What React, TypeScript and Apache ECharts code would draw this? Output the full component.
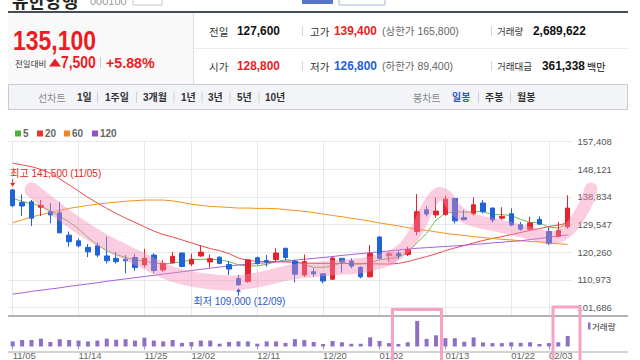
import React, { useEffect, useRef } from 'react';
import * as echarts from 'echarts';

const dates = ['11/05','11/06','11/07','11/08','11/11','11/12','11/13','11/14','11/15','11/18','11/19','11/20','11/21','11/22','11/25','11/26','11/27','11/28','11/29','12/02','12/03','12/04','12/05','12/06','12/09','12/10','12/11','12/12','12/13','12/16','12/17','12/18','12/19','12/20','12/23','12/24','12/26','12/27','12/30','01/02','01/03','01/06','01/07','01/08','01/09','01/10','01/13','01/14','01/15','01/16','01/17','01/20','01/21','01/22','01/23','01/24','01/31','02/03','02/04','02/05'];

const opens = [141200,137000,137200,135400,133900,133500,126000,124100,121900,122400,
  119000,118200,117900,118500,116000,119300,114300,116700,120000,116300,
  119000,117000,118600,116100,111400,110400,118400,117500,117800,121600,
  117200,112600,113700,113000,111200,118200,117300,115200,112000,125400,
  119200,119900,119500,127200,134500,132800,132900,138300,131900,133200,
  136800,135100,131700,133200,129500,128000,131300,127200,125600,128800];
const highs = [141500,139700,137800,137800,136700,137200,127200,124900,123000,123500,
  125500,120400,119300,119700,121400,119900,117600,120400,120100,119800,
  122600,119500,118800,117400,112600,117900,118800,119300,121600,121700,
  117700,119500,114900,113200,118800,118300,118200,115500,122700,125500,
  120400,120800,122100,139800,135800,138600,139200,138500,134400,138700,
  137800,135300,135400,135000,130400,132200,132300,128600,130400,139400];
const lows = [135400,132400,129100,132400,130000,126600,122100,121900,118600,118600,
  116500,116500,113200,114000,115100,113200,113700,116500,115200,115600,
  118700,115100,116200,112600,109000,110000,116000,115400,117100,117500,
  110100,112000,112000,109800,110900,113400,114900,111500,111800,117800,
  117100,117900,119000,126000,132300,131800,132600,129900,131000,132600,
  133300,130200,131200,129100,127500,127600,129400,122700,125200,128200];
const closes = [135900,135800,131700,136000,132800,126800,123800,122400,120400,119300,
  117400,117100,117400,115100,118200,114100,116500,118900,115500,117900,
  120300,118100,116500,114600,109300,117700,116500,116900,120000,118500,
  112900,117100,113000,110600,118300,117000,115600,112000,119800,118200,
  119700,119000,121200,133900,133100,134100,138100,130800,131200,136200,
  133900,131100,132300,129400,128000,130100,129700,123300,127600,135100];

const volumes = [1290000,1655000,1655000,2000000,1140000,1870000,1655000,1505000,1290000,1505000,
  2000000,1720000,1870000,1505000,2215000,1505000,1290000,1655000,925000,1140000,
  1505000,1505000,710000,1140000,1290000,1290000,710000,1290000,1290000,925000,
  1870000,1655000,1140000,645000,1400000,1075000,690000,690000,2320000,1420000,
  860000,645000,1075000,6490000,1935000,2840000,2105000,2105000,1205000,2320000,
  1030000,860000,860000,1075000,925000,1075000,645000,860000,1075000,2689622];

const ma5 = [138400,137300,136600,135800,134100,132400,130400,128100,125200,122700,
  120800,119500,118500,117700,117300,116600,116300,116600,117100,117700,
  117900,117900,117700,117100,116000,115600,115700,116200,117100,117700,
  117400,116000,115200,115200,115600,116800,116300,116300,116700,117700,
  118200,118600,120400,123500,126600,131100,133400,133900,133700,133900,
  133900,132900,132900,132600,131300,130300,130100,128700,128400,130000];
const ma20 = [150200,149600,149000,148100,146800,144900,142900,140800,138700,136800,
  135000,133300,131700,130300,128800,127400,126200,125400,124400,123400,
  122400,121500,120800,119800,118300,117500,117200,117100,117100,117000,
  116800,116600,116500,116500,116500,116500,116400,116400,116400,116300,
  116300,116500,117100,118000,118800,119700,120800,121700,122500,123400,
  124200,124900,125500,126200,126900,127600,128200,128900,129400,130100];
const ma60 = [130200,131100,132100,132900,133600,134300,135000,135500,136000,136400,
  136800,137100,137400,137600,137800,137800,137800,137500,137000,136400,
  136000,135700,135500,135300,135100,135100,135000,135000,134900,134600,
  134300,134000,133600,133100,132600,132200,131700,131200,130700,130100,
  129600,129100,128500,128000,127600,127100,126600,126200,125900,125500,
  125200,124900,124600,124400,124100,123900,123700,123400,123100,122900];
const ma120 = [106200,106600,107100,107500,107900,108300,108800,109200,109600,110000,
  110500,110900,111300,111700,112100,112500,112900,113300,113700,114100,
  114500,114900,115300,115600,116000,116200,116500,116700,117000,117200,
  117600,117900,118200,118500,118800,119200,119500,119800,120100,120400,
  120700,121000,121300,121600,121800,122000,122200,122400,122600,122900,
  123100,123400,123600,123900,124100,124500,124900,125300,125700,126100];

const yTicks = [101686, 110973, 120260, 129547, 138834, 148121, 157408];
const dateTicks = ['11/05','11/14','11/25','12/02','12/11','12/20','01/02','01/13','01/22','02/03'];
const highPoint = { date: '11/05', price: 141500, text: '최고 141,500 (11/05)' };
const lowPoint = { date: '12/09', price: 109000, text: '최저 109,000 (12/09)' };

const FONT = "'Liberation Sans', 'Noto Sans CJK KR', sans-serif";
const KFONT = "'Noto Sans CJK KR', 'Liberation Sans', sans-serif";
const RED = '#ec1c24';
const BLUE = '#1c5ed8';
const UP = '#e5232b';
const DOWN = '#1f63d6';
const MA_COLORS = ['#6cc04a', '#ef4b4b', '#f6911e', '#a461d8'];
const LEG_COLORS = ['#4bb33b', '#e8352f', '#f5861f', '#9653c9'];

const fmt = (v: number) => v.toLocaleString('en-US');

function T(text: string, x: number, y: number, o: any = {}) {
  return {
    type: 'text', x, y, z: 20, scaleX: o.scaleX ?? 1,
    style: {
      text, fill: o.fill ?? '#333', fontSize: o.fontSize ?? 10,
      fontWeight: o.bold ? 'bold' : 'normal', fontFamily: o.font ?? FONT,
      align: o.align ?? 'left', verticalAlign: o.va ?? 'middle',
    },
  };
}
function L(x1: number, y1: number, x2: number, y2: number, stroke: string, lineWidth = 1, z = 20) {
  return { type: 'line', z, shape: { x1, y1, x2, y2 }, style: { stroke, lineWidth } };
}
function R(x: number, y: number, width: number, height: number, style: any, z = 1) {
  return { type: 'rect', z, shape: { x, y, width, height }, style };
}

export default function App() {
  const ref = useRef<HTMLDivElement>(null);
  useEffect(() => {
    document.body.style.margin = '0';
    const chart = echarts.init(ref.current!, null, { renderer: 'svg', width: 640, height: 360 });
    const isTick = (i: number) => dateTicks.includes(dates[i]);
    const maNames = ['5', '20', '60', '120'];
    const maData = [ma5, ma20, ma60, ma120];

    chart.setOption({
      animation: false,
      grid: [
        { left: 8, right: 67.6, top: 141.7, height: 174.3 },
        { left: 8, right: 67.6, top: 316, height: 36 },
      ],
      xAxis: [
        { type: 'category', gridIndex: 0, data: dates, boundaryGap: true, show: false },
        {
          type: 'category', gridIndex: 1, data: dates, boundaryGap: true,
          axisLine: { show: false },
          axisTick: { show: true, interval: (i: number) => isTick(i), alignWithLabel: true, length: 3, lineStyle: { color: '#999' } },
          axisLabel: { interval: (i: number) => isTick(i), color: '#666', fontSize: 9.5, margin: 4, align: 'left', fontFamily: FONT },
          splitLine: { show: false },
        },
      ],
      yAxis: [
        { type: 'value', gridIndex: 0, min: 98829, max: 157408, show: false },
        { type: 'value', gridIndex: 1, min: 0, max: 7740000, show: false },
      ],
      series: [
        {
          type: 'line', xAxisIndex: 0, yAxisIndex: 0, data: [], silent: true, z: 1,
          markLine: {
            z: 1, silent: true, symbol: ['none', 'none'], animation: false,
            lineStyle: { color: '#e8e8e8', width: 1, type: 'solid' },
            label: { show: false },
            emphasis: { disabled: true },
            data: [
              ...yTicks.map((v) => ({
                yAxis: v,
                label: { show: true, position: 'end', formatter: fmt(v), color: '#555', fontSize: 9.5, fontFamily: FONT, distance: 5 },
              })),
              ...dateTicks.map((d) => ({ xAxis: d })),
            ],
          },
        },
        ...maData.map((d, k) => ({
          type: 'line', name: maNames[k], xAxisIndex: 0, yAxisIndex: 0, data: d,
          symbol: 'none', silent: true, z: 2,
          lineStyle: { color: MA_COLORS[k], width: 1 },
        })),
        {
          type: 'candlestick', xAxisIndex: 0, yAxisIndex: 0, z: 3, clip: false,
          data: dates.map((_, i) => [opens[i], closes[i], lows[i], highs[i]]),
          barWidth: 5,
          itemStyle: { color: UP, color0: DOWN, borderColor: UP, borderColor0: DOWN, borderWidth: 1 },
        },
        {
          type: 'bar', xAxisIndex: 1, yAxisIndex: 1, data: volumes, barWidth: 4, silent: true,
          itemStyle: { color: '#8d6fc6' },
        },
      ],
    });

    const hi = chart.convertToPixel({ xAxisIndex: 0, yAxisIndex: 0 }, [highPoint.date, highPoint.price]) as number[];
    const lo = chart.convertToPixel({ xAxisIndex: 0, yAxisIndex: 0 }, [lowPoint.date, lowPoint.price]) as number[];

    const pink = 'rgba(245,135,182,0.42)';
    const graphics: any[] = [
      // page top (clipped in the reference)
      T('유한양행', 12, 9, { fontSize: 18, bold: true, fill: '#222', font: KFONT, va: 'bottom' }),
      T('000100', 90, 6.5, { fontSize: 11, fill: '#999', va: 'bottom' }),
      R(133, -6, 29, 11, { fill: '#fff', stroke: '#c8c8c8' }),
      R(302, -6, 31, 10, { fill: '#5476c9' }),
      R(339, -6, 46, 11, { fill: '#fff', stroke: '#a6b4d8' }),
      R(8, 11, 620, 2, { fill: '#454b57' }),
      // header boxes
      R(8, 13, 185, 71, { fill: '#f9f9f9' }),
      L(193.5, 13, 193.5, 84, '#dcdcdc', 1, 2),
      L(194, 48.5, 628, 48.5, '#ececec', 1, 2),
      R(8.5, 84.5, 619, 25, { fill: '#f3f4f8', stroke: '#c8cad2' }),
      // current price
      T('135,100', 13, 40, { fontSize: 28, bold: true, fill: RED, scaleX: 0.82 }),
      T('전일대비', 15, 62.5, { fontSize: 8.5, fill: '#333', font: KFONT }),
      { type: 'polygon', z: 20, shape: { points: [[49, 66.5], [55, 58.5], [61, 66.5]] }, style: { fill: RED } },
      T('7,500', 61, 62.5, { fontSize: 16, bold: true, fill: RED, scaleX: 0.87 }),
      L(100.5, 57, 100.5, 68, '#cccccc'),
      T('+5.88%', 106, 62.5, { fontSize: 15.5, bold: true, fill: RED, scaleX: 0.92 }),
      // info rows
      T('전일', 209, 31, { fontSize: 10.5, font: KFONT }),
      T('127,600', 237, 31, { fontSize: 12.5, bold: true, fill: '#111', scaleX: 0.95 }),
      L(302.5, 26, 302.5, 36, '#d5d5d5'),
      T('고가', 310, 31, { fontSize: 10.5, font: KFONT }),
      T('139,400', 334, 31, { fontSize: 12.5, bold: true, fill: RED, scaleX: 0.95 }),
      T('(상한가 165,800)', 382, 31, { fontSize: 10.5, fill: '#666' }),
      L(491.5, 26, 491.5, 36, '#d5d5d5'),
      T('거래량', 497, 31, { fontSize: 9.5, font: KFONT }),
      T('2,689,622', 533, 31, { fontSize: 12.5, bold: true, fill: '#111', scaleX: 0.95 }),
      T('시가', 209, 66, { fontSize: 10.5, font: KFONT }),
      T('128,800', 237, 66, { fontSize: 12.5, bold: true, fill: RED, scaleX: 0.95 }),
      L(302.5, 61, 302.5, 71, '#d5d5d5'),
      T('저가', 310, 66, { fontSize: 10.5, font: KFONT }),
      T('126,800', 334, 66, { fontSize: 12.5, bold: true, fill: BLUE, scaleX: 0.95 }),
      T('(하한가 89,400)', 382, 66, { fontSize: 10.5, fill: '#666' }),
      L(491.5, 61, 491.5, 71, '#d5d5d5'),
      T('거래대금', 497, 66, { fontSize: 9.5, font: KFONT }),
      T('361,338', 542, 66, { fontSize: 12.5, bold: true, fill: '#111', scaleX: 0.95 }),
      T('백만', 587, 66, { fontSize: 10, fill: '#111', font: KFONT }),
      // tabs
      T('선차트', 38, 97.5, { fontSize: 10, fill: '#888', font: KFONT }),
      T('1일', 77, 97.5, { fontSize: 10, bold: true }),
      T('1주일', 105, 97.5, { fontSize: 10, bold: true }),
      T('3개월', 143, 97.5, { fontSize: 10, bold: true }),
      T('1년', 181, 97.5, { fontSize: 10, bold: true }),
      T('3년', 208, 97.5, { fontSize: 10, bold: true }),
      T('5년', 237, 97.5, { fontSize: 10, bold: true }),
      T('10년', 265, 97.5, { fontSize: 10, bold: true }),
      ...[97.5, 136.5, 174, 202, 230, 259].map((x) => L(x, 92, x, 103, '#d0d0d0')),
      T('봉차트', 413, 97.5, { fontSize: 10, fill: '#888', font: KFONT }),
      T('일봉', 452, 97.5, { fontSize: 10, bold: true, fill: '#2f55c0' }),
      L(478.5, 92, 478.5, 103, '#d0d0d0'),
      T('주봉', 485, 97.5, { fontSize: 10, bold: true }),
      L(510.5, 92, 510.5, 103, '#d0d0d0'),
      T('월봉', 517, 97.5, { fontSize: 10, bold: true }),
      // MA legend
      ...maNames.flatMap((n, k) => {
        const xs = [15, 37, 64, 92][k];
        return [R(xs, 130.5, 6, 6, { fill: LEG_COLORS[k] }, 20), T(n, xs + 8, 133.8, { fontSize: 10, bold: true, fill: '#666' })];
      }),
      // axis frame lines
      L(8, 316, 628, 316, '#9a9a9a', 1.5, 20),
      L(8, 352, 628, 352, '#a8a8a8', 1, 20),
      R(588, 322.5, 2.5, 7, { fill: '#8d6fc6' }, 20),
      T('거래량', 592, 326, { fontSize: 8.5, fill: '#333', font: KFONT }),
      // high / low markers
      T(highPoint.text, hi[0] - 2.5, hi[1] - 16, { fontSize: 10, fill: '#e8261d' }),
      L(hi[0], hi[1] - 10, hi[0], hi[1] - 4, '#e8261d', 1),
      { type: 'polygon', z: 20, shape: { points: [[hi[0] - 2.5, hi[1] - 6], [hi[0] + 2.5, hi[1] - 6], [hi[0], hi[1] - 2.5]] }, style: { fill: '#e8261d' } },
      T(lowPoint.text, lo[0] + 1, lo[1] + 15.5, { fontSize: 10, fill: '#2a58c8', align: 'center' }),
      L(lo[0], lo[1] + 10, lo[0], lo[1] + 4, '#2a58c8', 1),
      { type: 'polygon', z: 20, shape: { points: [[lo[0] - 2.5, lo[1] + 6], [lo[0] + 2.5, lo[1] + 6], [lo[0], lo[1] + 2.5]] }, style: { fill: '#2a58c8' } },
      // pink highlighter annotations
      {
        type: 'polyline', z: 30, silent: true,
        shape: { smooth: 0.35, points: [[32, 190], [52, 206], [76, 224], [100, 239], [125, 252], [150, 264], [175, 275], [205, 281], [235, 283], [262, 279], [292, 272], [330, 268], [365, 265], [390, 258]] },
        style: { stroke: pink, lineWidth: 15, lineCap: 'round', lineJoin: 'round', fill: 'none' },
      },
      {
        type: 'polyline', z: 30, silent: true,
        shape: { smooth: 0.35, points: [[392, 257], [406, 246], [418, 228], [428, 207], [438, 194], [447, 197], [455, 209], [470, 219], [500, 226], [530, 233], [552, 238], [567, 231], [579, 216], [587, 201], [591, 189]] },
        style: { stroke: pink, lineWidth: 13, lineCap: 'round', lineJoin: 'round', fill: 'none' },
      },
      { type: 'rect', z: 30, silent: true, shape: { x: 392.5, y: 309.5, width: 49, height: 60 }, style: { fill: 'none', stroke: '#f7a1c4', lineWidth: 3 } },
      { type: 'rect', z: 30, silent: true, shape: { x: 553, y: 307, width: 27, height: 60 }, style: { fill: 'none', stroke: '#f7a1c4', lineWidth: 3 } },
    ];
    chart.setOption({ graphic: graphics });
    return () => chart.dispose();
  }, []);
  return <div ref={ref} style={{ width: 640, height: 360 }} />;
}
